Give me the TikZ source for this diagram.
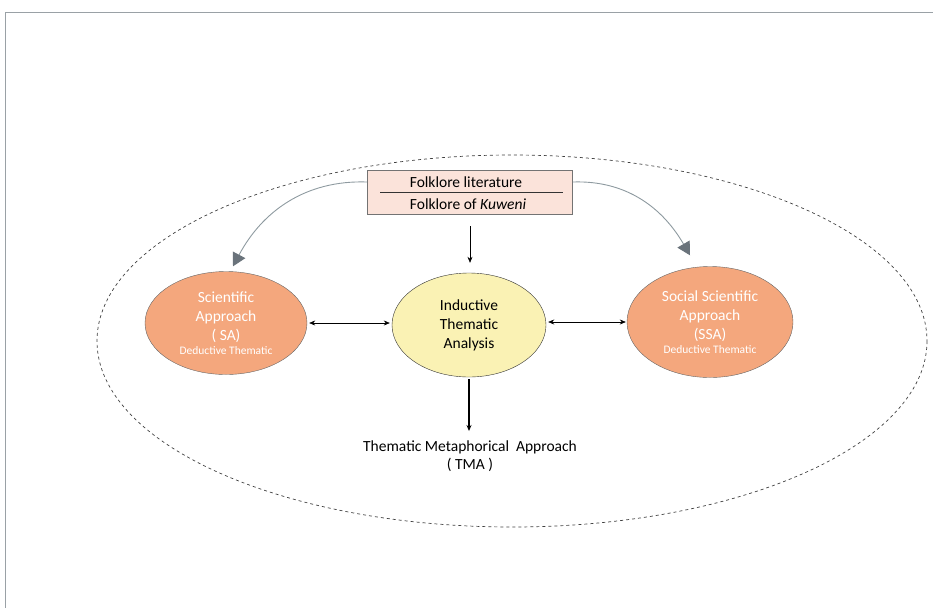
\documentclass[tikz,border=0pt]{standalone}
\usepackage{fontspec}
\setmainfont{Carlito}
\usepackage{tikz}
\usetikzlibrary{arrows.meta,shapes.geometric,positioning}
\definecolor{salmon}{HTML}{F4A77D}
\definecolor{paleyellow}{HTML}{FAF2B4}
\definecolor{palepink}{HTML}{FBE3DA}
\definecolor{framegray}{HTML}{9AA1A6}
\definecolor{curvegray}{HTML}{8E9AA0}
\definecolor{tipgray}{HTML}{6A737B}

\begin{document}
\begin{tikzpicture}[x=1pt,y=-1pt,>={Stealth[length=6pt,width=5pt]},
  approach node/.style={ellipse,fill=salmon,draw=gray!80!black,inner sep=0pt,
    text=white,align=center,font=\fontsize{15.5}{19}\selectfont},
  center node/.style={ellipse,fill=paleyellow,draw=black!80,inner sep=0pt,
    align=center,font=\fontsize{15.5}{19}\selectfont},
  curve arrow/.style={draw=curvegray,line width=0.9pt,
    -{Triangle[length=13pt,width=14pt,color=tipgray]}}]
  \useasboundingbox (0,0) rectangle (933,608);
  % frame
  \draw[framegray,line width=0.8pt] (933,12) -- (5,12) -- (5,608);
  % outer dashed ellipse
  \draw[dashed,black!75,line width=0.7pt] (512,341) ellipse [x radius=415,y radius=186];

  \node[draw=gray!90!black,fill=palepink,minimum width=205pt,minimum height=44pt,
    line width=0.8pt] (src) at (470,192) {};
  \node[font=\fontsize{15.5}{18}\selectfont] (lit) at (466,182) {Folklore literature};
  \node[font=\fontsize{15.5}{18}\selectfont] (kuw) at (468,204) {Folklore of \textit{Kuweni}};
  \draw[black!80,line width=0.6pt] (380,192) -- (563,192);

  \node[approach node,minimum width=162pt,minimum height=103pt] (sa) at (226,323)
    {Scientific\\Approach\\( SA)\\[-5pt]{\fontsize{11.5}{13}\selectfont Deductive Thematic}};
  \node[center node,minimum width=154pt,minimum height=104pt] (ita) at (469,325)
    {Inductive\\Thematic\\Analysis};
  \node[approach node,minimum width=166pt,minimum height=111pt] (ssa) at (710,322)
    {Social Scientific\\Approach\\(SSA)\\[-5pt]{\fontsize{11.5}{13}\selectfont Deductive Thematic}};
  \node[align=center,font=\fontsize{15.5}{18}\selectfont] (tma) at (470,456)
    {Thematic Metaphorical\ \ Approach\\( TMA )};

  \draw[<->,line width=0.6pt] ([xshift=2pt]sa.east) -- ([xshift=-2pt]sa.east -| ita.west);
  \draw[<->,line width=0.6pt] ([xshift=2pt]ssa.west -| ita.east) -- ([xshift=-1pt]ssa.west);
  \draw[->,line width=0.6pt] ([yshift=-12pt]src.south) -- ([yshift=10pt]src.south |- ita.north);
  \draw[->,line width=1.2pt] ([yshift=-2pt]ita.south) -- ([yshift=6pt]ita.south |- tma.north);
  \draw[curve arrow] (src.west |- lit) to[out=178,in=62] ([xshift=7pt,yshift=5pt]sa.north);
  \draw[curve arrow] (src.east |- lit) to[out=2,in=120] ([xshift=-20pt,yshift=11pt]ssa.north);
\end{tikzpicture}
\end{document}
